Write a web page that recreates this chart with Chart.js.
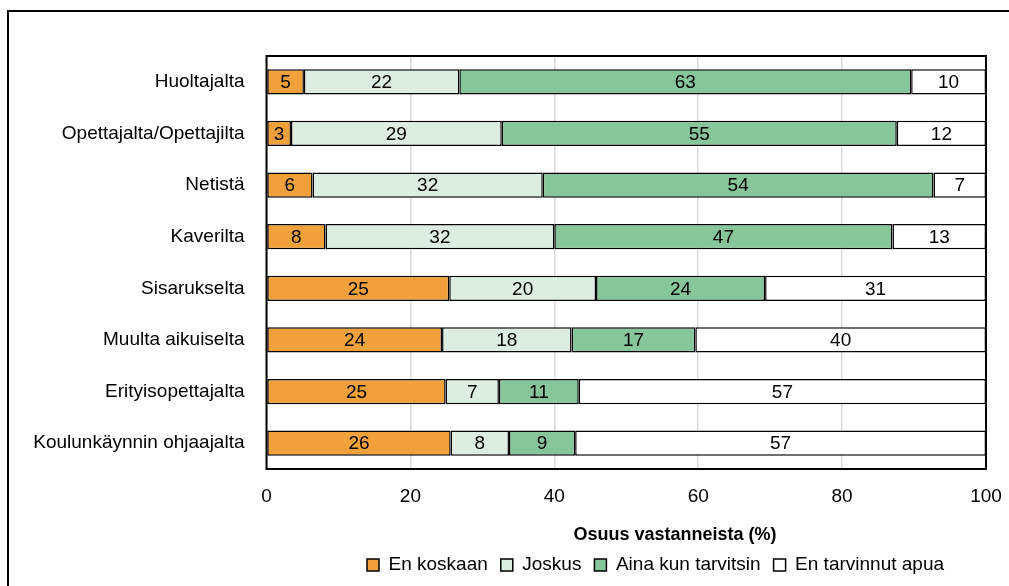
<!DOCTYPE html>
<html>
<head>
<meta charset="utf-8">
<script src="https://cdn.jsdelivr.net/npm/chart.js@4.4.1/dist/chart.umd.min.js"></script>
<style>
  html, body { margin: 0; padding: 0; background: #ffffff; }
  #wrap { position: relative; width: 1009px; height: 586px; }
  canvas { display: block; }
</style>
</head>
<body>
<div id="wrap"><canvas id="c" width="1009" height="586"></canvas></div>
<script>
const categories = ['Huoltajalta', 'Opettajalta/Opettajilta', 'Netistä', 'Kaverilta', 'Sisarukselta', 'Muulta aikuiselta', 'Erityisopettajalta', 'Koulunkäynnin ohjaajalta'];
const seriesNames = ['En koskaan', 'Joskus', 'Aina kun tarvitsin', 'En tarvinnut apua'];
const enKoskaan = [5.2, 3.4, 6.4, 8.2, 25.4, 24.4, 24.9, 25.6];
const joskus = [21.6, 29.3, 32.0, 31.8, 20.4, 18.0, 7.4, 8.1];
const ainaKunTarvitsin = [62.8, 54.9, 54.3, 47.0, 23.5, 17.2, 11.1, 9.2];
const enTarvinnutApua = [10.4, 12.4, 7.3, 13.0, 30.7, 40.4, 56.6, 57.1];
const xTickValues = [0, 20, 40, 60, 80, 100];
const xAxisTitle = 'Osuus vastanneista (%)';

const FONT = '"Liberation Sans Narrow", "Arial Narrow", "Liberation Sans", Arial, sans-serif';
const FS = 19;
const TFS = 18;
const LEG_PAD = 13;
const colors = ['#F0A13C', '#DCEEE1', '#86C69A', '#FFFFFF'];
const seriesValues = [enKoskaan, joskus, ainaKunTarvitsin, enTarvinnutApua];

const datasets = seriesNames.map((name, i) => ({
  label: name,
  data: seriesValues[i],
  backgroundColor: colors[i],
  borderColor: '#000000',
  borderWidth: 1.5,
  borderSkipped: false,
  barPercentage: 0.49,
  categoryPercentage: 1.0
}));

const framePlugin = {
  id: 'frame',
  beforeDraw(chart) {
    const ctx = chart.ctx;
    ctx.save();
    ctx.strokeStyle = '#000';
    ctx.lineWidth = 2;
    ctx.strokeRect(8, 11, 1200, 800);
    ctx.restore();
  },
  afterDatasetsDraw(chart) {
    const ctx = chart.ctx;
    const a = chart.chartArea;
    ctx.save();
    ctx.strokeStyle = '#000';
    ctx.lineWidth = 2;
    ctx.strokeRect(a.left, a.top, a.right - a.left, a.bottom - a.top);
    ctx.font = FS + 'px ' + FONT;
    ctx.fillStyle = '#000';
    ctx.textAlign = 'center';
    ctx.textBaseline = 'middle';
    chart.data.datasets.forEach((ds, di) => {
      const meta = chart.getDatasetMeta(di);
      meta.data.forEach((el, i) => {
        const p = el.getCenterPoint();
        ctx.fillText(String(Math.round(ds.data[i])), p.x, p.y + 1);
      });
    });
    ctx.restore();
  },
  afterLayout(chart) {
    const t = chart.titleBlock;
    if (t) {
      const shift = 675 - (t.left + t.right) / 2;
      t.left += shift; t.right += shift;
      const h = t.bottom - t.top;
      t.top = 535 - TFS * 1.2 / 2; t.bottom = t.top + h;
    }
    const lg = chart.legend;
    if (lg && lg.lineWidths) {
      const pad = lg.options.labels.padding;
      const cur = (lg.left + pad + lg.right - lg.lineWidths[0]) / 2;
      const d = 367 - cur;
      lg.left += d; lg.right += d;
      const h = lg.bottom - lg.top;
      lg.top = 565 - pad - FS / 2; lg.bottom = lg.top + h;
    }
  }
};

new Chart(document.getElementById('c'), {
  type: 'bar',
  data: { labels: categories, datasets },
  plugins: [framePlugin],
  options: {
    indexAxis: 'y',
    responsive: false,
    animation: false,
    events: [],
    layout: { padding: { left: 0, right: 23, top: 56, bottom: 0 } },
    scales: {
      x: {
        stacked: true,
        min: 0, max: 100,
        afterBuildTicks(scale) { scale.ticks = xTickValues.map(v => ({ value: v })); },
        afterFit(scale) { scale.height = 53.4; scale.paddingLeft = 0; scale.paddingRight = 0; },
        border: { display: false },
        grid: { color: '#D9D9D9', lineWidth: 1.5, drawTicks: false },
        ticks: { color: '#000', padding: 16.6, font: { family: FONT, size: FS }, maxRotation: 0, autoSkip: false }
      },
      y: {
        stacked: true,
        afterFit(scale) { scale.width = 266.5; },
        border: { display: false },
        grid: { display: false, drawTicks: false },
        ticks: { color: '#000', padding: 22, font: { family: FONT, size: FS } }
      }
    },
    plugins: {
      tooltip: { enabled: false },
      title: {
        display: true,
        text: xAxisTitle,
        position: 'bottom',
        weight: 500,
        color: '#000',
        padding: 0,
        font: { family: FONT, size: TFS, weight: 'bold' }
      },
      legend: {
        display: true,
        position: 'bottom',
        labels: {
          color: '#000',
          boxWidth: 12,
          boxHeight: 12,
          padding: LEG_PAD,
          font: { family: FONT, size: FS }
        }
      }
    }
  }
});
</script>
</body>
</html>
